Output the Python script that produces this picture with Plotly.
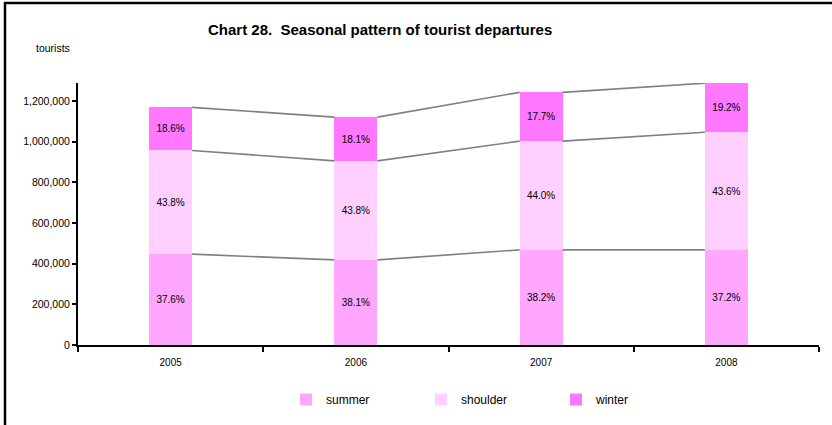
import plotly.graph_objects as go

years = ["2005", "2006", "2007", "2008"]
summer = [447000, 419000, 468000, 468000]
shoulder = [510000, 487000, 535000, 579000]
winter = [212000, 215000, 240000, 241000]
summer_pct = ["37.6%", "38.1%", "38.2%", "37.2%"]
shoulder_pct = ["43.8%", "43.8%", "44.0%", "43.6%"]
winter_pct = ["18.6%", "18.1%", "17.7%", "19.2%"]
y_ticks = [0, 200000, 400000, 600000, 800000, 1000000, 1200000]

colors = {"summer": "#FFA6FF", "shoulder": "#FFD0FF", "winter": "#FF78FF"}
FONT = "Liberation Sans, Arial, Helvetica, sans-serif"
W, H = 832, 425
L, R, T, B = 78, 13, 83, 80
pw, ph = W - L - R, H - T - B
BW = 0.232

def px(x):
    return (x - L) / pw

def py(y):
    return (H - B - y) / ph

xs = list(range(len(years)))
fig = go.Figure()

series = [("summer", summer, summer_pct), ("shoulder", shoulder, shoulder_pct), ("winter", winter, winter_pct)]
for name, vals, labels in series:
    fig.add_trace(go.Bar(
        x=xs, y=vals, name=name, width=BW,
        marker=dict(color=colors[name], line=dict(width=0)),
        text=labels, textposition="inside", insidetextanchor="middle",
        textangle=0, constraintext="none",
        textfont=dict(size=10, color="#000000", family=FONT),
        hoverinfo="skip",
    ))

# series lines connecting the cumulative tops
cum = [0] * len(years)
for name, vals, _ in series:
    cum = [c + v for c, v in zip(cum, vals)]
    for i in range(len(years) - 1):
        fig.add_trace(go.Scatter(
            x=[xs[i] + BW / 2, xs[i + 1] - BW / 2], y=[cum[i], cum[i + 1]],
            mode="lines", line=dict(color="#808080", width=1.6),
            showlegend=False, hoverinfo="skip",
        ))

fig.update_layout(
    width=W, height=H,
    margin=dict(l=L, r=R, t=T, b=B, autoexpand=False),
    barmode="stack",
    paper_bgcolor="white", plot_bgcolor="white",
    font=dict(family=FONT, size=10, color="#000000"),
    showlegend=True,
    legend=dict(
        orientation="h", x=px(286), xanchor="left", y=py(385), yanchor="top",
        font=dict(size=12, family=FONT, color="#000000"),
        entrywidth=90, entrywidthmode="pixels",
        traceorder="normal",
    ),
    xaxis=dict(
        range=[-0.5, 3.5], tickvals=xs, ticktext=years, ticks="", showgrid=False,
        zeroline=False, showline=True, linecolor="#000000", linewidth=2,
        tickfont=dict(size=10, family=FONT), fixedrange=True, ticklabelstandoff=7,
        minor=dict(tick0=0.5, dtick=1, ticks="outside", ticklen=5, tickcolor="#000000", tickwidth=2, showgrid=False),
    ),
    yaxis=dict(
        range=[0, 1289000], tickvals=y_ticks, tickformat=",d", ticks="outside", ticklen=4,
        tickcolor="#000000", tickwidth=2, showgrid=False, zeroline=False,
        showline=True, linecolor="#000000", linewidth=2,
        tickfont=dict(size=10.5, family=FONT), fixedrange=True,
    ),
    annotations=[
        dict(text="<b>Chart 28.  Seasonal pattern of tourist departures</b>", xref="paper", yref="paper",
             x=px(380), y=py(30), xanchor="center", yanchor="middle", showarrow=False,
             font=dict(size=15, family=FONT, color="#000000")),
        dict(text="tourists", xref="paper", yref="paper", x=px(34), y=py(48),
             xanchor="left", yanchor="middle", showarrow=False,
             font=dict(size=10.5, family=FONT, color="#000000")),
    ],
    shapes=[
        dict(type="line", xref="paper", yref="paper", x0=px(5), x1=px(5), y0=py(2), y1=py(430),
             line=dict(color="#000000", width=2.5)),
        dict(type="line", xref="paper", yref="paper", x0=px(4), x1=px(840), y0=py(3), y1=py(3),
             line=dict(color="#000000", width=2.5)),
    ],
)

fig.write_html("out.html", config={"displayModeBar": False},
               post_script="document.body.style.margin='0';document.body.style.overflow='hidden';")
